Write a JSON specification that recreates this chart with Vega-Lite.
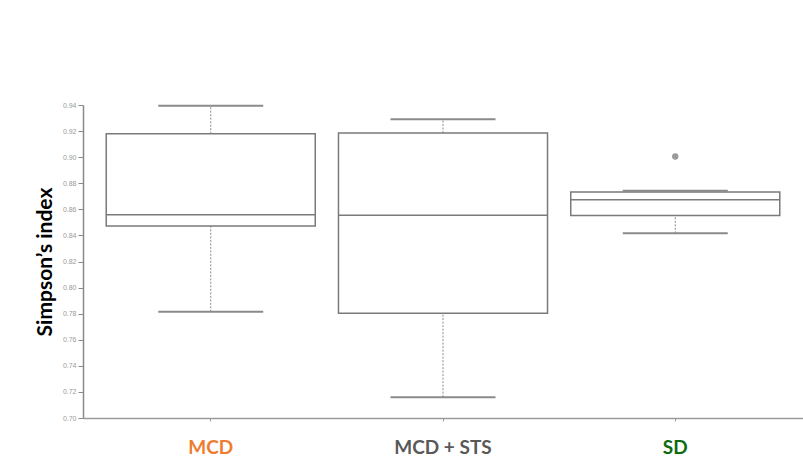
{
  "$schema": "https://vega.github.io/schema/vega-lite/v6.json",
  "autosize": "none",
  "width": 720,
  "height": 313,
  "padding": {"left": 83, "top": 105, "right": 0, "bottom": 50},
  "background": "white",
  "config": {
    "view": {"stroke": null},
    "axisY": {
      "titleFont": "Lato",
      "titleFontWeight": "bold",
      "titleFontSize": 21,
      "titleColor": "black",
      "titlePadding": 7,
      "format": ".2f",
      "labelOverlap": false,
      "labelBound": false,
      "labelFont": "Liberation Sans",
      "labelFontSize": 7,
      "labelColor": "#9a9a9a",
      "labelPadding": 2,
      "tickSize": 5,
      "tickColor": "#8a8a8a",
      "domainColor": "#8a8a8a",
      "domainWidth": 1.5,
      "grid": false
    }
  },
  "datasets": {
    "stats": [
      {"group": "MCD", "lower": 0.7814, "q1": 0.8473, "median": 0.8559, "q3": 0.918, "upper": 0.9395},
      {"group": "MCD + STS", "lower": 0.716, "q1": 0.7804, "median": 0.8555, "q3": 0.9185, "upper": 0.929},
      {"group": "SD", "lower": 0.8416, "q1": 0.8553, "median": 0.8674, "q3": 0.8733, "upper": 0.8743}
    ],
    "outliers": [
      {"group": "SD", "value": 0.9005}
    ]
  },
  "encoding": {
    "x": {
      "field": "group",
      "type": "nominal",
      "sort": ["MCD", "MCD + STS", "SD"],
      "scale": {"type": "band", "paddingInner": 0.1, "paddingOuter": 0.1},
      "axis": {
        "title": null,
        "labelAngle": 0,
        "labelFont": "Lato",
        "labelFontWeight": "bold",
        "labelFontSize": 19,
        "labelPadding": 17,
        "labelColor": {"expr": "datum.value == 'MCD' ? '#ED7D31' : (datum.value == 'SD' ? '#0E6A0E' : '#595959')"},
        "domainColor": "#9a9a9a",
        "domainWidth": 1.5,
        "tickColor": "#9a9a9a",
        "tickSize": 3,
        "grid": false
      }
    }
  },
  "layer": [
    {
      "data": {"name": "stats"},
      "mark": {"type": "rule", "color": "#8a8a8a", "strokeWidth": 1, "strokeDash": [2, 1.5]},
      "encoding": {
        "y": {
          "field": "lower",
          "type": "quantitative",
          "scale": {"domain": [0.7, 0.94], "nice": false, "zero": false},
          "axis": {"title": "Simpson’s index", "values": [0.7, 0.72, 0.74, 0.76, 0.78, 0.8, 0.82, 0.84, 0.86, 0.88, 0.9, 0.92, 0.94]}
        },
        "y2": {"field": "q1"}
      }
    },
    {
      "data": {"name": "stats"},
      "mark": {"type": "rule", "color": "#8a8a8a", "strokeWidth": 1, "strokeDash": [2, 1.5]},
      "encoding": {
        "y": {"field": "q3", "type": "quantitative", "axis": {"title": "Simpson’s index", "values": [0.7, 0.72, 0.74, 0.76, 0.78, 0.8, 0.82, 0.84, 0.86, 0.88, 0.9, 0.92, 0.94]}},
        "y2": {"field": "upper"}
      }
    },
    {
      "data": {"name": "stats"},
      "mark": {"type": "bar", "fill": "white", "stroke": "#7a7a7a", "strokeWidth": 1.5},
      "encoding": {
        "y": {"field": "q1", "type": "quantitative", "axis": {"title": "Simpson’s index", "values": [0.7, 0.72, 0.74, 0.76, 0.78, 0.8, 0.82, 0.84, 0.86, 0.88, 0.9, 0.92, 0.94]}},
        "y2": {"field": "q3"}
      }
    },
    {
      "data": {"name": "stats"},
      "mark": {"type": "tick", "color": "#7a7a7a", "size": 209, "thickness": 1.5, "opacity": 1},
      "encoding": {
        "y": {"field": "median", "type": "quantitative", "axis": {"title": "Simpson’s index", "values": [0.7, 0.72, 0.74, 0.76, 0.78, 0.8, 0.82, 0.84, 0.86, 0.88, 0.9, 0.92, 0.94]}}
      }
    },
    {
      "data": {"name": "stats"},
      "mark": {"type": "tick", "color": "#8a8a8a", "size": 105, "thickness": 2, "opacity": 1},
      "encoding": {
        "y": {"field": "lower", "type": "quantitative", "axis": {"title": "Simpson’s index", "values": [0.7, 0.72, 0.74, 0.76, 0.78, 0.8, 0.82, 0.84, 0.86, 0.88, 0.9, 0.92, 0.94]}}
      }
    },
    {
      "data": {"name": "stats"},
      "mark": {"type": "tick", "color": "#8a8a8a", "size": 105, "thickness": 2, "opacity": 1},
      "encoding": {
        "y": {"field": "upper", "type": "quantitative", "axis": {"title": "Simpson’s index", "values": [0.7, 0.72, 0.74, 0.76, 0.78, 0.8, 0.82, 0.84, 0.86, 0.88, 0.9, 0.92, 0.94]}}
      }
    },
    {
      "data": {"name": "outliers"},
      "mark": {"type": "point", "filled": true, "color": "#9a9a9a", "size": 40, "opacity": 1},
      "encoding": {
        "y": {"field": "value", "type": "quantitative", "axis": {"title": "Simpson’s index", "values": [0.7, 0.72, 0.74, 0.76, 0.78, 0.8, 0.82, 0.84, 0.86, 0.88, 0.9, 0.92, 0.94]}}
      }
    }
  ]
}
